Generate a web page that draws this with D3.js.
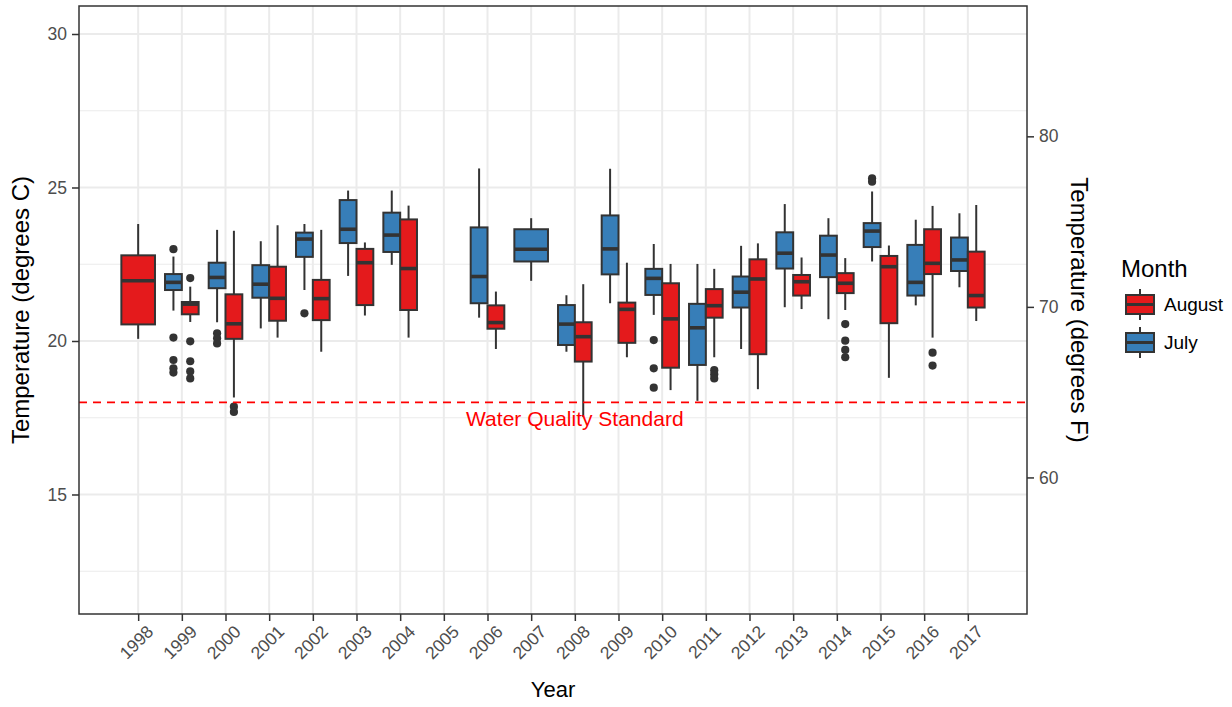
<!DOCTYPE html>
<html>
<head>
<meta charset="utf-8">
<script src="https://cdn.jsdelivr.net/npm/d3@7"></script>
<style>
  body { margin: 0; background: #fff; }
  text { font-family: "Liberation Sans", Arial, Helvetica, sans-serif; }
</style>
</head>
<body>
<svg id="chart" width="1232" height="707"></svg>
<script>
// ---- data -------------------------------------------------------------
const years = ["1998","1999","2000","2001","2002","2003","2004","2005","2006","2007",
               "2008","2009","2010","2011","2012","2013","2014","2015","2016","2017"];
const months = ["August", "July"];

// July box statistics (degrees C), null = no samples that year
const julyLow  = [null,20.99,20.61,20.41,21.66,22.12,22.48,null,20.76,21.96,19.65,21.23,20.85,18.05,19.74,21.10,20.71,22.59,21.16,21.75];
const julyQ1   = [null,21.66,21.72,21.41,22.74,23.19,22.90,null,21.23,22.59,19.87,22.17,21.50,19.22,21.09,22.36,22.08,23.06,21.48,22.28];
const julyMed  = [null,21.91,22.07,21.85,23.32,23.64,23.45,null,22.10,22.99,20.55,23.00,22.04,20.43,21.59,22.86,22.80,23.58,21.91,22.64];
const julyQ3   = [null,22.18,22.55,22.47,23.53,24.59,24.18,null,23.70,23.64,21.17,24.09,22.35,21.21,22.10,23.54,23.43,23.84,23.13,23.37];
const julyHigh = [null,22.75,23.62,23.25,23.81,24.90,24.90,null,25.62,24.00,21.49,25.61,23.16,22.51,23.10,24.46,24.00,24.87,23.95,24.16];

// August box statistics (degrees C)
const augLow  = [20.07,20.62,18.16,20.11,19.65,20.83,20.11,null,19.74,null,17.53,19.47,18.40,19.47,18.43,21.04,21.01,18.80,20.11,20.65];
const augQ1   = [20.54,20.87,20.07,20.66,20.68,21.17,21.01,null,20.40,null,19.33,19.94,19.13,20.76,19.57,21.48,21.56,20.58,22.18,21.09];
const augMed  = [21.96,21.20,20.56,21.39,21.38,22.55,22.36,null,20.60,null,20.14,21.03,20.72,21.15,22.02,21.93,21.88,22.42,22.53,21.48];
const augQ3   = [22.79,21.27,21.52,22.42,21.99,23.00,23.96,null,21.16,null,20.61,21.25,21.88,21.69,22.66,22.15,22.21,22.77,23.64,22.91];
const augHigh = [23.81,21.77,23.59,23.77,23.62,23.21,24.41,null,21.61,null,21.85,22.55,22.51,22.35,23.18,22.72,22.70,23.11,24.40,24.43];

// outlying observations [year, degrees C]
const julyOutliers = [["1999",22.99],["1999",20.11],["1999",19.38],["1999",19.11],["1999",18.97],
                      ["2000",20.25],["2000",20.09],["2000",19.92],["2002",20.90],
                      ["2010",20.03],["2010",19.11],["2010",18.48],["2015",25.30],["2015",25.19]];
const augOutliers  = [["1999",22.05],["1999",19.99],["1999",19.34],["1999",19.01],["1999",18.78],
                      ["2000",17.86],["2000",17.69],["2011",19.05],["2011",18.92],["2011",18.78],
                      ["2014",20.55],["2014",20.01],["2014",19.71],["2014",19.47],
                      ["2016",19.62],["2016",19.20]];

const yTicksC = [15, 20, 25, 30];
const yMinorC = [12.5, 17.5, 22.5, 27.5];
const yTicksF = [60, 70, 80];
const standardC = 18;
const standardLabel = "Water Quality Standard";

// ---- layout -----------------------------------------------------------
const panel = { left: 79, right: 1027, top: 6, bottom: 614 };
const colors = { August: "#E41A1C", July: "#377EB8" };
const ink = "#333333";
const gridColor = "#EBEBEB";
const tickText = "#4D4D4D";

const svg = d3.select("#chart");

const x = d3.scalePoint().domain(years).range([panel.left, panel.right]).padding(1.355);
const y = d3.scaleLinear().domain([11.107, 30.912]).range([panel.bottom, panel.top]);
const yF = d3.scaleLinear()
  .domain(y.domain().map(c => c * 9 / 5 + 32))
  .range([panel.bottom, panel.top]);

// build per-month box records
function buildBoxes(month, lo, q1, med, q3, hi) {
  return years.map((yr, i) => ({ month, year: yr, lo: lo[i], q1: q1[i], med: med[i], q3: q3[i], hi: hi[i] }))
              .filter(d => d.med !== null);
}
const boxes = buildBoxes("July", julyLow, julyQ1, julyMed, julyQ3, julyHigh)
  .concat(buildBoxes("August", augLow, augQ1, augMed, augQ3, augHigh));

const fullWidth = x.step() * 0.77;
const present = {};
boxes.forEach(d => { (present[d.year] = present[d.year] || []).push(d.month); });

// dodge the two months side by side; a lone month takes the whole slot
function slot(year, month) {
  const ms = present[year] || [];
  if (ms.length < 2) return { cx: x(year), w: fullWidth };
  const w = fullWidth / 2;
  return month === "July" ? { cx: x(year) - w / 2, w } : { cx: x(year) + w / 2, w };
}

// ---- grid -------------------------------------------------------------
const grid = svg.append("g");
grid.selectAll("line.minor").data(yMinorC).join("line")
  .attr("x1", panel.left).attr("x2", panel.right)
  .attr("y1", d => y(d)).attr("y2", d => y(d))
  .attr("stroke", gridColor).attr("stroke-width", 1.2);
grid.selectAll("line.majorY").data(yTicksC).join("line")
  .attr("x1", panel.left).attr("x2", panel.right)
  .attr("y1", d => y(d)).attr("y2", d => y(d))
  .attr("stroke", gridColor).attr("stroke-width", 2);
grid.selectAll("line.majorX").data(years).join("line")
  .attr("x1", d => x(d)).attr("x2", d => x(d))
  .attr("y1", panel.top).attr("y2", panel.bottom)
  .attr("stroke", gridColor).attr("stroke-width", 2);

// ---- boxes ------------------------------------------------------------
const marks = svg.append("g");
boxes.forEach(d => {
  const s = slot(d.year, d.month);
  const g = marks.append("g");
  g.append("line")
    .attr("x1", s.cx).attr("x2", s.cx)
    .attr("y1", y(d.hi)).attr("y2", y(d.lo))
    .attr("stroke", ink).attr("stroke-width", 2);
  g.append("rect")
    .attr("x", s.cx - s.w / 2).attr("width", s.w)
    .attr("y", y(d.q3)).attr("height", y(d.q1) - y(d.q3))
    .attr("fill", colors[d.month]).attr("stroke", ink).attr("stroke-width", 2);
  g.append("line")
    .attr("x1", s.cx - s.w / 2).attr("x2", s.cx + s.w / 2)
    .attr("y1", y(d.med)).attr("y2", y(d.med))
    .attr("stroke", ink).attr("stroke-width", 3.6);
});

const outliers = julyOutliers.map(([yr, v]) => ({ year: yr, v, month: "July" }))
  .concat(augOutliers.map(([yr, v]) => ({ year: yr, v, month: "August" })));
marks.selectAll("circle").data(outliers).join("circle")
  .attr("cx", d => slot(d.year, d.month).cx)
  .attr("cy", d => y(d.v))
  .attr("r", 4.1)
  .attr("fill", ink);

// ---- water quality standard --------------------------------------------
svg.append("line")
  .attr("x1", panel.left).attr("x2", panel.right)
  .attr("y1", y(standardC)).attr("y2", y(standardC))
  .attr("stroke", "#FF0000").attr("stroke-width", 1.6)
  .attr("stroke-dasharray", "8,6");
svg.append("text")
  .attr("x", x("2008")).attr("y", y(standardC) + 24)
  .attr("text-anchor", "middle")
  .attr("fill", "#FF0000").attr("font-size", 21)
  .text(standardLabel);

// ---- panel border -----------------------------------------------------
svg.append("rect")
  .attr("x", panel.left).attr("y", panel.top)
  .attr("width", panel.right - panel.left).attr("height", panel.bottom - panel.top)
  .attr("fill", "none").attr("stroke", ink).attr("stroke-width", 1.5);

// ---- axes -------------------------------------------------------------
function styleAxis(g) {
  g.select(".domain").remove();
  g.selectAll(".tick line").attr("stroke", ink).attr("stroke-width", 1.5);
  g.selectAll(".tick text").attr("fill", tickText).attr("font-size", 17.5)
    .attr("font-family", "Liberation Sans, Arial, sans-serif");
}

svg.append("g")
  .attr("transform", `translate(${panel.left},0)`)
  .call(d3.axisLeft(y).tickValues(yTicksC).tickSize(7).tickPadding(5))
  .call(styleAxis);

svg.append("g")
  .attr("transform", `translate(${panel.right},0)`)
  .call(d3.axisRight(yF).tickValues(yTicksF).tickSize(7).tickPadding(5))
  .call(styleAxis);

const xAxis = svg.append("g")
  .attr("transform", `translate(0,${panel.bottom})`)
  .call(d3.axisBottom(x).tickSize(7).tickPadding(4))
  .call(styleAxis);
xAxis.selectAll(".tick text")
  .attr("text-anchor", "end")
  .attr("transform", "translate(7,10) rotate(-45)")
  .attr("y", 0).attr("dy", "0.71em");

// ---- titles -----------------------------------------------------------
svg.append("text")
  .attr("x", (panel.left + panel.right) / 2).attr("y", 697)
  .attr("text-anchor", "middle").attr("font-size", 22).attr("fill", "#000")
  .text("Year");
svg.append("text")
  .attr("transform", `translate(29,${(panel.top + panel.bottom) / 2}) rotate(-90)`)
  .attr("text-anchor", "middle").attr("font-size", 24).attr("fill", "#000")
  .text("Temperature (degrees C)");
svg.append("text")
  .attr("transform", `translate(1071,${(panel.top + panel.bottom) / 2}) rotate(90)`)
  .attr("text-anchor", "middle").attr("font-size", 24).attr("fill", "#000")
  .text("Temperature (degrees F)");

// ---- legend -----------------------------------------------------------
const legend = svg.append("g").attr("transform", "translate(1121,0)");
legend.append("text")
  .attr("x", 0).attr("y", 277)
  .attr("font-size", 24).attr("fill", "#000")
  .text("Month");
const keyTop = [295, 333];
months.forEach((m, i) => {
  const k = legend.append("g").attr("transform", `translate(5,${keyTop[i]})`);
  k.append("line").attr("x1", 14).attr("x2", 14).attr("y1", -6).attr("y2", 25)
    .attr("stroke", ink).attr("stroke-width", 2);
  k.append("rect").attr("x", 0).attr("y", 0).attr("width", 28).attr("height", 19)
    .attr("fill", colors[m]).attr("stroke", ink).attr("stroke-width", 2);
  k.append("line").attr("x1", 0).attr("x2", 28).attr("y1", 9.5).attr("y2", 9.5)
    .attr("stroke", ink).attr("stroke-width", 3);
  k.append("text").attr("x", 38).attr("y", 9.5).attr("dy", "0.35em")
    .attr("font-size", 19).attr("fill", "#000").text(m);
});
</script>
</body>
</html>
